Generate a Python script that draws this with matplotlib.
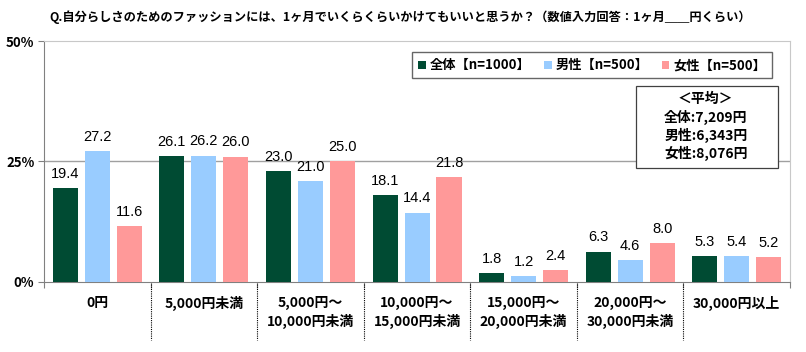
import matplotlib.pyplot as plt
import matplotlib.transforms as mtransforms
from matplotlib.patches import Rectangle
import numpy as np

plt.rcParams['font.family'] = ['Noto Sans CJK JP', 'DejaVu Sans']

categories = ['0円', '5,000円未満', '5,000円～\n10,000円未満', '10,000円～\n15,000円未満',
              '15,000円～\n20,000円未満', '20,000円～\n30,000円未満', '30,000円以上']
total = [19.4, 26.1, 23.0, 18.1, 1.8, 6.3, 5.3]
male = [27.2, 26.2, 21.0, 14.4, 1.2, 4.6, 5.4]
female = [11.6, 26.0, 25.0, 21.8, 2.4, 8.0, 5.2]
series_names = ['全体【n=1000】', '男性【n=500】', '女性【n=500】']
colors = ['#004B33', '#99CCFF', '#FF9999']
avg_lines = ['＜平均＞', '全体:7,209円', '男性:6,343円', '女性:8,076円']

fig = plt.figure(figsize=(8.06, 3.52), dpi=100)
ax = fig.add_axes([0.0546, 0.199, 0.9256, 0.6845])

x = np.arange(len(categories))
w = 0.235
step = 0.3
for i, (vals, c, name) in enumerate(zip([total, male, female], colors, series_names)):
    pos = x + (i - 1) * step
    ax.bar(pos, vals, w, color=c, label=name, zorder=3)
    for p, v in zip(pos, vals):
        ax.text(p, v + 1.5, f'{v:.1f}', ha='center', va='bottom', fontsize=10.5,
                family=['Liberation Sans', 'DejaVu Sans'], zorder=4)

ax.set_xlim(-0.5, len(categories) - 0.5)
ax.set_ylim(0, 50)
ax.set_yticks([0, 25, 50])
ax.set_yticklabels(['0%', '25%', '50%'], fontsize=9.5, fontweight='bold')
ax.axhline(25, color='#A0A0A0', lw=1, zorder=1)

ax.set_xticks(np.arange(len(categories) + 1) - 0.5)
ax.set_xticklabels([])
ax.tick_params(axis='x', length=4, color='#808080', direction='out')
ax.tick_params(axis='y', length=4, color='#808080', direction='out', pad=3)
for s in ['left', 'bottom']:
    ax.spines[s].set_color('#808080')
for s in ['top', 'right']:
    ax.spines[s].set_color('#C8C8C8')

trans = mtransforms.blended_transform_factory(ax.transData, ax.transAxes)
for k, cat in enumerate(categories):
    ax.text(k, -0.06, cat, transform=trans, ha='center', va='top', fontsize=10,
            fontweight='bold', linespacing=1.3)
for k in range(1, len(categories)):
    ax.plot([k - 0.5, k - 0.5], [-0.01, -0.24], transform=trans, color='black',
            lw=0.8, ls=(0, (1, 1)), clip_on=False)

ax.legend(loc='upper right', bbox_to_anchor=(0.985, 0.98), ncol=3,
          frameon=True, fancybox=False, edgecolor='#404040', handlelength=0.6,
          handleheight=0.6, handletextpad=0.3, columnspacing=1.0, borderpad=0.45,
          prop={'weight': 'bold', 'size': 9.5})

ax.add_patch(Rectangle((0.7936, 0.473), 0.19, 0.34, transform=ax.transAxes,
                       fc='white', ec='#404040', lw=0.9, zorder=5))
for j, line in enumerate(avg_lines):
    ax.text(0.887, 0.76 - j * 0.076, line, transform=ax.transAxes, ha='center',
            va='center', fontsize=10, fontweight='bold', zorder=6)

fig.text(0.497, 0.95, 'Q.自分らしさのためのファッションには、1ヶ月でいくらくらいかけてもいいと思うか？（数値入力回答：1ヶ月＿＿円くらい）',
         ha='center', va='center', fontsize=8.8, fontweight='bold')

fig.savefig('out.png', dpi=100)
